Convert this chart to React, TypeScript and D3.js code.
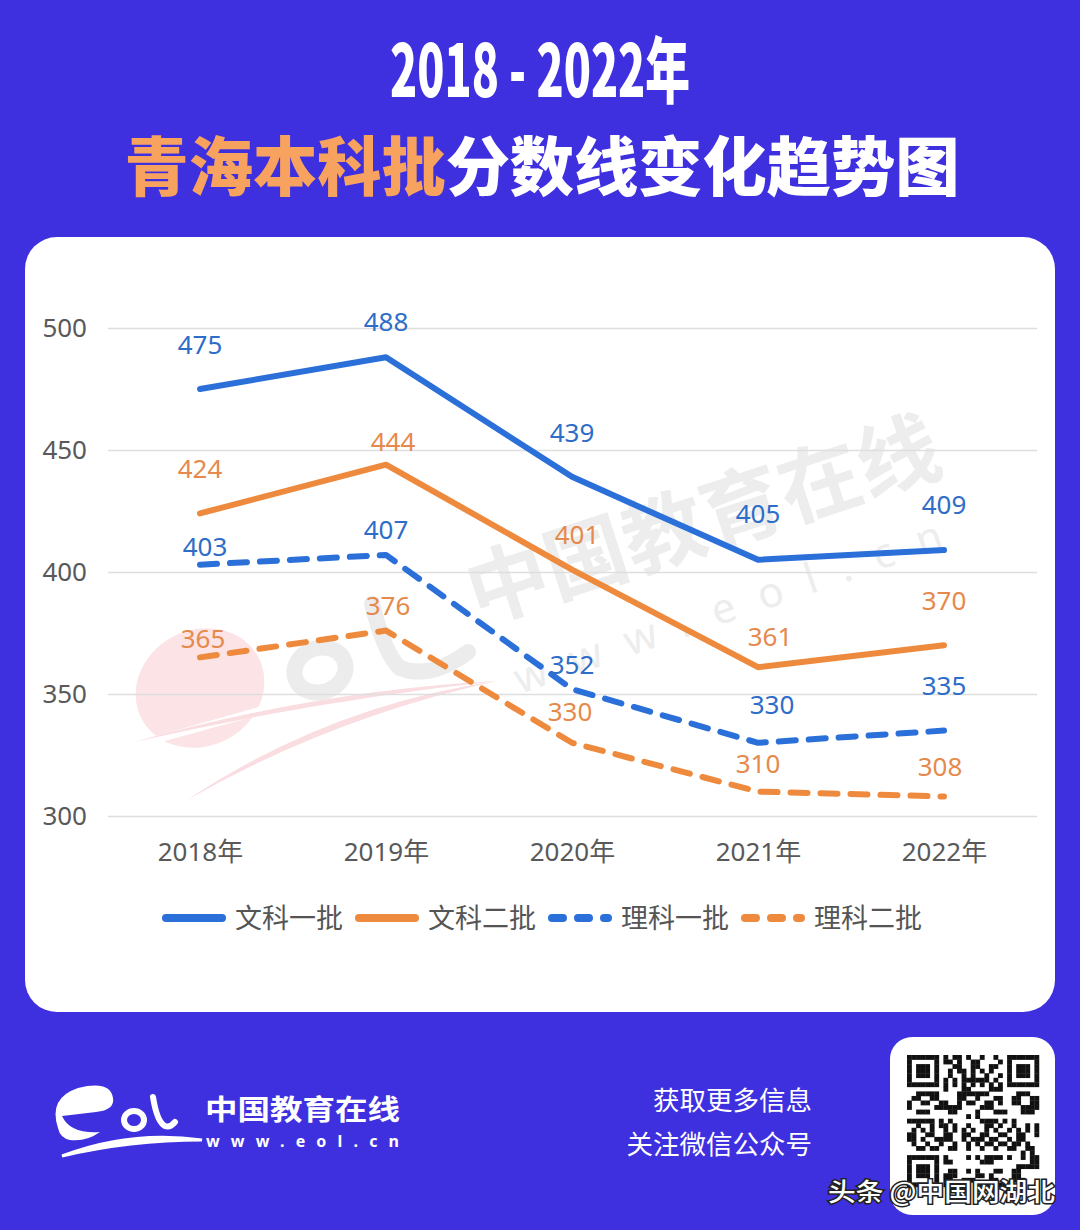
import React, { useRef, useEffect } from "react";
import * as d3 from "d3";

// ---- data ----
const years = ["2018年", "2019年", "2020年", "2021年", "2022年"];
const wenYi = [475, 488, 439, 405, 409];
const wenEr = [424, 444, 401, 361, 370];
const liYi = [403, 407, 352, 330, 335];
const liEr = [365, 376, 330, 310, 308];
const yTicks = [300, 350, 400, 450, 500];
const seriesNames = ["文科一批", "文科二批", "理科一批", "理科二批"];

// ---- layout ----
const W = 1080,
  H = 1230;
const BG = "#3f30df";
const BLUE = "#2b6fd9",
  ORANGE = "#ee8a3d";
const BLUE_TXT = "#2e6dc8",
  ORANGE_TXT = "#e58a4c";
const FONT = "'Noto Sans', 'Noto Sans CJK SC', sans-serif";
const CJK = "'Noto Sans CJK SC', sans-serif";

// value label nudges (layout only, px)
const labelDy = [
  [-44, -36, -44, -46, -45],
  [-45, -23, -35, -31, -45],
  [-18, -25, -24, -38, -45],
  [-19, -25, -31, -28, -30],
];
const labelDx = [
  [0, 0, 0, 0, 0],
  [0, 7, 5, 12, 0],
  [5, 0, 0, 14, 0],
  [3, 2, -2, 0, -4],
];

const series = [
  { name: seriesNames[0], values: wenYi, color: BLUE, text: BLUE_TXT, dashed: false },
  { name: seriesNames[1], values: wenEr, color: ORANGE, text: ORANGE_TXT, dashed: false },
  { name: seriesNames[2], values: liYi, color: BLUE, text: BLUE_TXT, dashed: true },
  { name: seriesNames[3], values: liEr, color: ORANGE, text: ORANGE_TXT, dashed: true },
];

// decorative qr-ish block
function QrBlock() {
  const n = 29,
    size = 4.55,
    x0 = 907,
    y0 = 1055;
  const cells: JSX.Element[] = [];
  const finder = (r: number, c: number) => {
    const inBox = (r0: number, c0: number) => r >= r0 && r < r0 + 7 && c >= c0 && c < c0 + 7;
    const boxes = [
      [0, 0],
      [0, n - 7],
      [n - 7, 0],
    ];
    for (const [r0, c0] of boxes) {
      if (inBox(r0, c0)) {
        const rr = r - r0,
          cc = c - c0;
        const ring = rr === 0 || rr === 6 || cc === 0 || cc === 6;
        const core = rr >= 2 && rr <= 4 && cc >= 2 && cc <= 4;
        return ring || core ? 1 : 0;
      }
      if (r >= r0 - 1 && r <= r0 + 7 && c >= c0 - 1 && c <= c0 + 7) return 0;
    }
    return -1;
  };
  for (let r = 0; r < n; r++) {
    for (let c = 0; c < n; c++) {
      const f = finder(r, c);
      const dark = f >= 0 ? f === 1 : (r * 37 + c * 91 + r * c * 13 + ((r ^ c) << 2)) % 11 < 5;
      if (dark)
        cells.push(
          <rect key={r + "-" + c} x={x0 + c * size} y={y0 + r * size} width={size + 0.3} height={size + 0.3} fill="#111" />
        );
    }
  }
  return (
    <g>
      <rect x={890} y={1037} width={165} height={178} rx={22} fill="#fff" />
      {cells}
    </g>
  );
}

function App() {
  const chartRef = useRef<SVGGElement>(null);

  useEffect(() => {
    const g = d3.select(chartRef.current);
    g.selectAll("*").remove();

    const x = d3.scalePoint().domain(years).range([107, 1037]).padding(0.5);
    const y = d3.scaleLinear().domain([300, 500]).range([816, 328]);

    // y axis + gridlines
    const yAxis = d3
      .axisLeft(y)
      .tickValues(yTicks)
      .tickSize(-(1037 - 108))
      .tickPadding(21);
    g.append("g")
      .attr("transform", "translate(108,0)")
      .call(yAxis)
      .call((a) => a.select(".domain").remove())
      .call((a) => a.selectAll(".tick line").attr("stroke", "#dedede").attr("stroke-width", 1.6))
      .call((a) =>
        a
          .selectAll(".tick text")
          .attr("fill", "#595959")
          .attr("font-size", 26)
          .attr("font-family", FONT)
      );

    // x axis
    const xAxis = d3.axisBottom(x).tickSize(0).tickPadding(27);
    g.append("g")
      .attr("transform", "translate(0,816)")
      .call(xAxis)
      .call((a) => a.select(".domain").remove())
      .call((a) =>
        a
          .selectAll(".tick text")
          .attr("fill", "#595959")
          .attr("font-size", 26)
          .attr("font-family", FONT)
      );

    const line = d3
      .line<number>()
      .x((d, i) => x(years[i]) as number)
      .y((d) => y(d));

    series.forEach((s) => {
      g.append("path")
        .datum(s.values)
        .attr("d", line)
        .attr("fill", "none")
        .attr("stroke", s.color)
        .attr("stroke-width", 6)
        .attr("stroke-linejoin", "round")
        .attr("stroke-linecap", "round")
        .attr("stroke-dasharray", s.dashed ? "17 13" : null);
    });

    series.forEach((s, si) => {
      g.append("g")
        .selectAll("text")
        .data(s.values)
        .join("text")
        .attr("x", (d, i) => (x(years[i]) as number) + labelDx[si][i])
        .attr("y", (d, i) => y(d) + labelDy[si][i])
        .attr("dy", "0.36em")
        .attr("text-anchor", "middle")
        .attr("fill", s.text)
        .attr("font-size", 26)
        .attr("font-family", FONT)
        .text((d) => d);
    });

    // legend
    const legend = g
      .append("g")
      .selectAll("g")
      .data(series)
      .join("g")
      .attr("transform", (d, i) => `translate(${162 + i * 193},918)`);
    legend
      .append("line")
      .attr("x1", 4)
      .attr("x2", 60)
      .attr("stroke", (d) => d.color)
      .attr("stroke-width", 8)
      .attr("stroke-linecap", "round")
      .attr("stroke-dasharray", (d) => (d.dashed ? "11 15" : null));
    legend
      .append("text")
      .attr("x", 73)
      .attr("dy", "0.36em")
      .attr("fill", "#555")
      .attr("font-size", 27)
      .attr("font-family", CJK)
      .text((d) => d.name);
  }, []);

  return (
    <svg width={W} height={H} style={{ display: "block", position: "absolute", left: 0, top: 0 }}>
      <rect width={W} height={H} fill={BG} />

      {/* title */}
      <text
        x={540}
        y={97}
        textAnchor="middle"
        fill="#fff"
        fontSize={72}
        fontWeight={900}
        fontFamily={CJK}
        textLength={300}
        lengthAdjust="spacingAndGlyphs"
      >
        2018 - 2022年
      </text>
      <text
        x={542}
        y={162}
        dominantBaseline="central"
        textAnchor="middle"
        fontSize={64}
        fontWeight={900}
        fontFamily={CJK}
        textLength={835}
        lengthAdjust="spacingAndGlyphs"
      >
        <tspan fill="#f7a35f">青海本科批</tspan>
        <tspan fill="#fff">分数线变化趋势图</tspan>
      </text>

      {/* card */}
      <rect x={25} y={237} width={1030} height={775} rx={32} fill="#fff" />

      {/* watermark */}
      <g>
        <ellipse cx={200} cy={688} rx={66} ry={58} transform="rotate(-28 200 688)" fill="#fbe3e6" />
        <path d="M128,744 L290,698 L292,706 L132,750 Z" fill="#fff" />
        <path d="M134,742 Q320,690 497,681 Q320,700 134,742 Z" fill="#f9dde0" />
        <path d="M187,800 Q330,705 497,681 Q330,718 187,800 Z" fill="#f9dde0" />
        <ellipse
          cx={320}
          cy={670}
          rx={26}
          ry={22}
          transform="rotate(-20 320 670)"
          fill="none"
          stroke="#ececec"
          strokeWidth={16}
        />
        <path d="M372,604 Q385,655 400,668 Q430,680 468,652" fill="none" stroke="#ececec" strokeWidth={16} strokeLinecap="round" />
        <text
          transform="translate(478,624) rotate(-18)"
          fontSize={82}
          fontWeight={700}
          fontFamily={CJK}
          fill="#ededed"
        >
          中国教育在线
        </text>
        <text
          transform="translate(520,694) rotate(-19)"
          fontSize={42}
          fontFamily={FONT}
          fill="#ededed"
          textLength={450}
          lengthAdjust="spacing"
        >
          www.eol.cn
        </text>
      </g>

      <g ref={chartRef} />

      {/* footer logo */}
      <g fill="#fff">
        <path d="M58,1128 Q48,1098 78,1088 Q110,1080 113,1098 Q115,1110 96,1112 L62,1116 Q70,1134 100,1132 Q86,1142 70,1140 Q60,1138 58,1128 Z" />
        <ellipse cx={134} cy={1120} rx={10} ry={9} fill="none" stroke="#fff" strokeWidth={6} />
        <path d="M153,1097 Q157,1122 165,1126 Q170,1128 175,1122" fill="none" stroke="#fff" strokeWidth={6} strokeLinecap="round" />
        <path d="M62,1156 Q130,1130 202,1140 Q130,1140 62,1156 Z" stroke="#fff" strokeWidth={3} />
        <text x={205} y={1108} dominantBaseline="central" fontSize={28} fontWeight={700} fontFamily={CJK} textLength={195} lengthAdjust="spacingAndGlyphs">
          中国教育在线
        </text>
        <text x={206} y={1141} dominantBaseline="central" fontSize={16} fontWeight={700} fontFamily={FONT} textLength={193} lengthAdjust="spacing">
          www.eol.cn
        </text>
      </g>

      <g fill="#fff" fontFamily={CJK} fontSize={26.5} textAnchor="end">
        <text x={812} y={1098} dominantBaseline="central">
          获取更多信息
        </text>
        <text x={812} y={1142} dominantBaseline="central">
          关注微信公众号
        </text>
      </g>

      <QrBlock />

      <text
        x={828}
        y={1190}
        dominantBaseline="central"
        fontSize={25}
        fontFamily={CJK}
        fontWeight={500}
        fill="#fff"
        stroke="#222"
        strokeWidth={3}
        paintOrder="stroke"
        textLength={227}
        lengthAdjust="spacingAndGlyphs"
      >
        头条 @中国网湖北
      </text>
    </svg>
  );
}

export default App;
